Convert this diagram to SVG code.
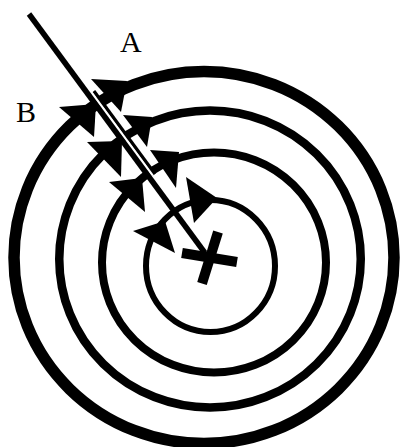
<svg xmlns="http://www.w3.org/2000/svg" width="401" height="447" viewBox="0 0 401 447">
<style>
.ring{fill:none;stroke:#000}
.head{fill:#000}
.lbl{font-family:"Liberation Serif","Times New Roman",serif;font-size:30px;fill:#000}
</style>
<rect width="401" height="447" fill="#fff"/>
<g id="ring4"><ellipse class="ring" cx="204" cy="257.5" rx="190" ry="186" stroke-width="11.5"/></g>
<g id="ring3"><ellipse class="ring" cx="210" cy="259" rx="150.75" ry="148.5" stroke-width="8.5"/></g>
<g id="ring2"><ellipse class="ring" cx="214" cy="262.5" rx="112" ry="110" stroke-width="8"/></g>
<g id="ring1"><ellipse class="ring" cx="210.5" cy="266" rx="64.5" ry="66" stroke-width="6"/></g>
<g id="connectors">
<line x1="93.8" y1="91.1" x2="154.9" y2="174.1" stroke="#000" stroke-width="3.5"/>
<line x1="91.6" y1="92.8" x2="152.7" y2="175.8" stroke="#fff" stroke-width="2.5"/>
<polygon class="head" points="91,79 127,81 121,112"/>
<polygon class="head" points="59,107 96,104 94,137"/>
<polygon class="head" points="123,115 152,117 147,147"/>
<polygon class="head" points="87,142 122,141 121,177"/>
<polygon class="head" points="150,150 179,152 176,188"/>
<polygon class="head" points="109,182 142,178 145,212"/>
<polygon class="head" points="186,177 217,198 194,223"/>
<polygon class="head" points="133,231 165,221 175,253"/>
<line x1="29" y1="14" x2="205" y2="253" stroke="#000" stroke-width="5.5"/>
</g>
<g id="cross">
<line x1="182" y1="253" x2="237" y2="262" stroke="#000" stroke-width="10"/>
<line x1="218" y1="232" x2="202" y2="283.5" stroke="#000" stroke-width="10"/>
</g>
<g id="labelA"><text class="lbl" x="120" y="52">A</text></g>
<g id="labelB"><text class="lbl" x="16" y="122">B</text></g>
</svg>
